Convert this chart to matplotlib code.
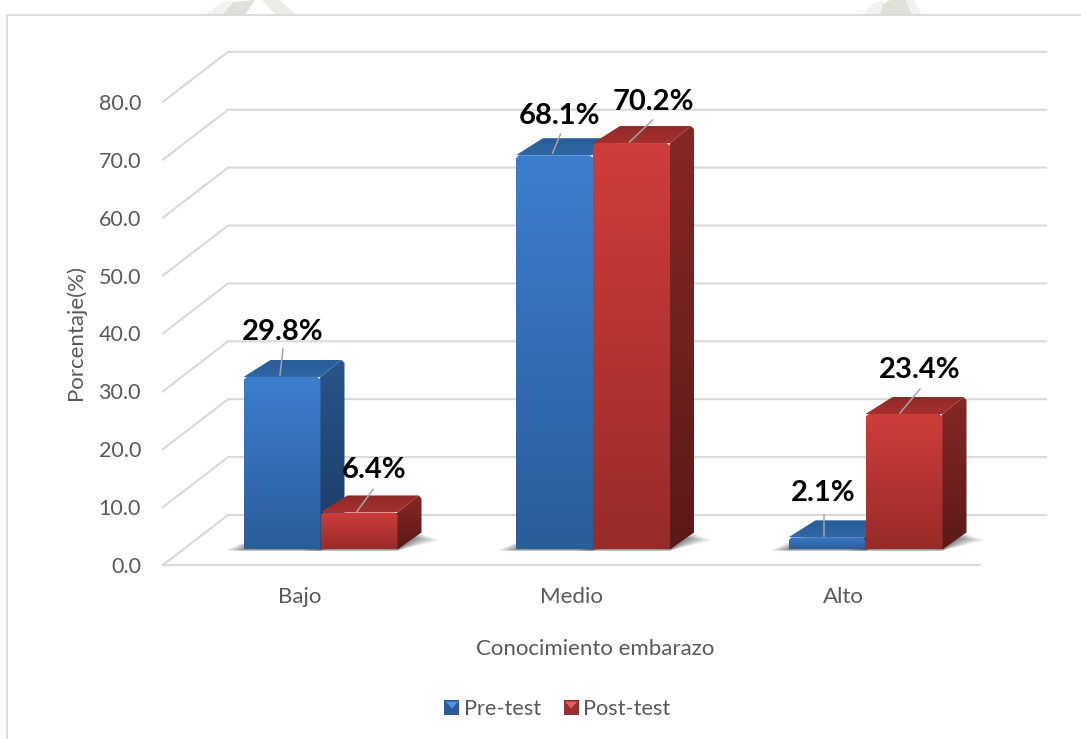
import numpy as np
import matplotlib
matplotlib.use("Agg")
import matplotlib.pyplot as plt
from matplotlib.colors import LinearSegmentedColormap
from matplotlib.patches import Polygon, Patch
from matplotlib.legend_handler import HandlerBase

categories = ["Bajo", "Medio", "Alto"]
series_names = ["Pre-test", "Post-test"]
pre_test = [29.8, 68.1, 2.1]
post_test = [6.4, 70.2, 23.4]
y_ticks = [0, 10, 20, 30, 40, 50, 60, 70, 80]
x_title = "Conocimiento embarazo"
y_title = "Porcentaje(%)"

# layout, in reference pixels
W, H = 1081, 739
CAT = 272.5
VAL = 5.79
X0, Y0 = 320.5, 549.5
BW = 77
DX, DY = 24, 17
GREY = "#595959"
plt.rcParams["font.family"] = ["Lato", "DejaVu Sans"]

fig = plt.figure(figsize=(W / 100, H / 100), dpi=100, facecolor="white")
ax = fig.add_axes([0, 0, 1, 1])
ax.axis("off")
xlim = (-X0 / CAT, (W - X0) / CAT)
ylim = ((Y0 - H) / VAL, Y0 / VAL)


def ux(px):
    return px / CAT


def uy(px):
    return px / VAL


def pxy(px, py):
    return (px - X0) / CAT, (Y0 - py) / VAL


def grad(poly, top, bottom, z):
    pts = np.array(poly)
    patch = Polygon(pts, closed=True, transform=ax.transData, fc="none", ec="none")
    ax.add_patch(patch)
    cmap = LinearSegmentedColormap.from_list("g", [top, bottom])
    extent = (pts[:, 0].min(), pts[:, 0].max(), pts[:, 1].min(), pts[:, 1].max())
    im = ax.imshow(np.linspace(0, 1, 64)[:, None], cmap=cmap, extent=extent,
                   origin="upper", aspect="auto", zorder=z, interpolation="bilinear")
    im.set_clip_path(patch)
    return im


# outer frame and faint watermark pieces
ax.plot(*zip(pxy(7, H), pxy(7, 15), pxy(W, 15)), color="#d9d9d9", lw=1.3, zorder=1)
for shape, col in [([(222, 15), (233, 2), (255, 0), (245, 15)], "#dde1da"),
                   ([(205, 15), (222, 2), (233, 0), (222, 15)], "#f2f3f0"),
                   ([(262, 0), (280, 0), (296, 15), (276, 15)], "#eaece8"),
                   ([(880, 15), (881, 5), (890, 0), (906, 0), (912, 15)], "#dde1da"),
                   ([(862, 15), (874, 3), (884, 0), (880, 15)], "#f2f3f0"),
                   ([(906, 0), (914, 0), (922, 15), (912, 15)], "#f2f3f0")]:
    ax.add_patch(Polygon([pxy(*p) for p in shape], fc=col, ec="none", zorder=0.5))

# walls: back gridlines, side lines, floor front line, tick labels
for v in y_ticks:
    back_y = 515 - v * 5.79
    front_y = 565 - v * 5.79
    xs, ys = zip(pxy(163, front_y), pxy(228, back_y), pxy(1046, back_y))
    ax.plot(xs, ys, color="#d9d9d9", lw=1.5, zorder=1, solid_joinstyle="miter")
    tx, ty = pxy(141, front_y + 2)
    ax.text(tx, ty, f"{v:.1f}", ha="right", va="center", color=GREY, fontsize=15.5, zorder=6)
ax.plot(*zip(pxy(163, 565), pxy(980, 565)), color="#d9d9d9", lw=1.5, zorder=1)

palette = [
    dict(front=("#3d7ecf", "#2b5c9a"), side=("#28558d", "#1b3b64"), top=("#2a5d98", "#2f66a6")),
    dict(front=("#cf3d3a", "#982b29"), side=("#862826", "#5c1918"), top=("#8f2a28", "#a5302d")),
]
label_offsets = [
    [(1, -45), (5.5, -39), (-4, -44)],
    [(15, -42.5), (21.5, -41), (16, -44)],
]
leader_tips = [
    [(3, -26), (8, -19), (0, -21)],
    [(16, -22), (23, -22), (20, -24)],
]
leader_start = [
    [(-2, -2), (-2, -2), (-3, -1)],
    [(-2, -1), (-2, -1), (-4, -1)],
]

z = 3.0
for i, name in enumerate(categories):
    for s, vals in enumerate([pre_test, post_test]):
        v = vals[i]
        left = i + (ux(-BW) if s == 0 else 0)
        right = left + ux(BW)
        dx, dy = ux(DX), uy(DY)
        # soft floor shadow
        for g in (18, 14, 10, 6, 3):
            ax.add_patch(Polygon([(left - ux(g), uy(-1)), (right, uy(-1)),
                                  (right + dx + ux(g), dy - uy(g * 0.35) + uy(-1)),
                                  (left + dx, dy)],
                                 fc="#303030", ec="none", alpha=0.13, zorder=2))
        c = palette[s]
        cut_x, cut_y = ux(3), uy(3)
        grad([(left, 0), (right, 0), (right + dx, dy), (right + dx, v + dy - cut_y),
              (right + dx - cut_x, v + dy), (right, v)], *c["side"], z)
        grad([(left, v), (right, v), (right + dx - cut_x, v + dy),
              (left + dx + cut_x, v + dy)], c["top"][0], c["top"][1], z + 0.01)
        grad([(left, 0), (right, 0), (right, v - cut_y), (right - cut_x, v),
              (left + cut_x, v), (left, v - cut_y)], *c["front"], z + 0.02)
        z += 0.1

for s, vals in enumerate([pre_test, post_test]):
    for i, v in enumerate(vals):
        left = i + (ux(-BW) if s == 0 else 0)
        cx = left + ux(BW / 2)
        sx, sy = leader_start[s][i]
        tx, ty = leader_tips[s][i]
        ax.plot([cx + ux(sx), cx + ux(sx + tx)], [v - uy(sy), v - uy(sy + ty)],
                color="#a6a6a6", lw=1.1, zorder=8)
        lx, ly = label_offsets[s][i]
        ax.text(cx + ux(lx), v - uy(ly), f"{v:.1f}%", ha="center", va="center",
                fontsize=21, fontweight="bold", color="black", zorder=9)

# axis titles and category labels
for i, name in enumerate(categories):
    tx, ty = pxy(X0 + i * 271.5 - 20.5, 597)
    ax.text(tx, ty, name, ha="center", va="center", color=GREY, fontsize=16)
tx, ty = pxy(595, 649)
ax.text(tx, ty, x_title, ha="center", va="center", color=GREY, fontsize=16)
tx, ty = pxy(76, 332)
ax.text(tx, ty, y_title, ha="center", va="center", rotation=90, color=GREY, fontsize=16)


class BevelSquare(HandlerBase):
    def create_artists(self, legend, orig, xd, yd, width, height, fontsize, trans):
        base, light = orig.get_facecolor(), orig.get_edgecolor()
        w = 10.8
        x0, y0 = -xd + width - w, -yd - 0.2
        return [
            Polygon([(x0, y0), (x0 + w, y0), (x0 + w, y0 + w), (x0, y0 + w)], fc=base, ec="none", transform=trans),
            Polygon([(x0 + 1, y0 + w - 1), (x0 + w - 1, y0 + w - 1), (x0 + w / 2, y0 + w * 0.45)],
                    fc=light, ec="none", transform=trans),
        ]


handles = [Patch(fc="#2b5c94", ec="#4f95e0", label=series_names[0]),
           Patch(fc="#96302e", ec="#e8605c", label=series_names[1])]
leg = ax.legend(handles=handles, loc="center", bbox_to_anchor=(554 / W, 1 - 709 / H), ncol=2,
                frameon=False, fontsize=15.6, labelcolor=GREY, handlelength=1.0, handletextpad=0.2,
                columnspacing=0.74, borderpad=0,
                handler_map={Patch: BevelSquare()})

ax.set_xlim(*xlim)
ax.set_ylim(*ylim)
fig.savefig("out.png", dpi=100, facecolor="white")
